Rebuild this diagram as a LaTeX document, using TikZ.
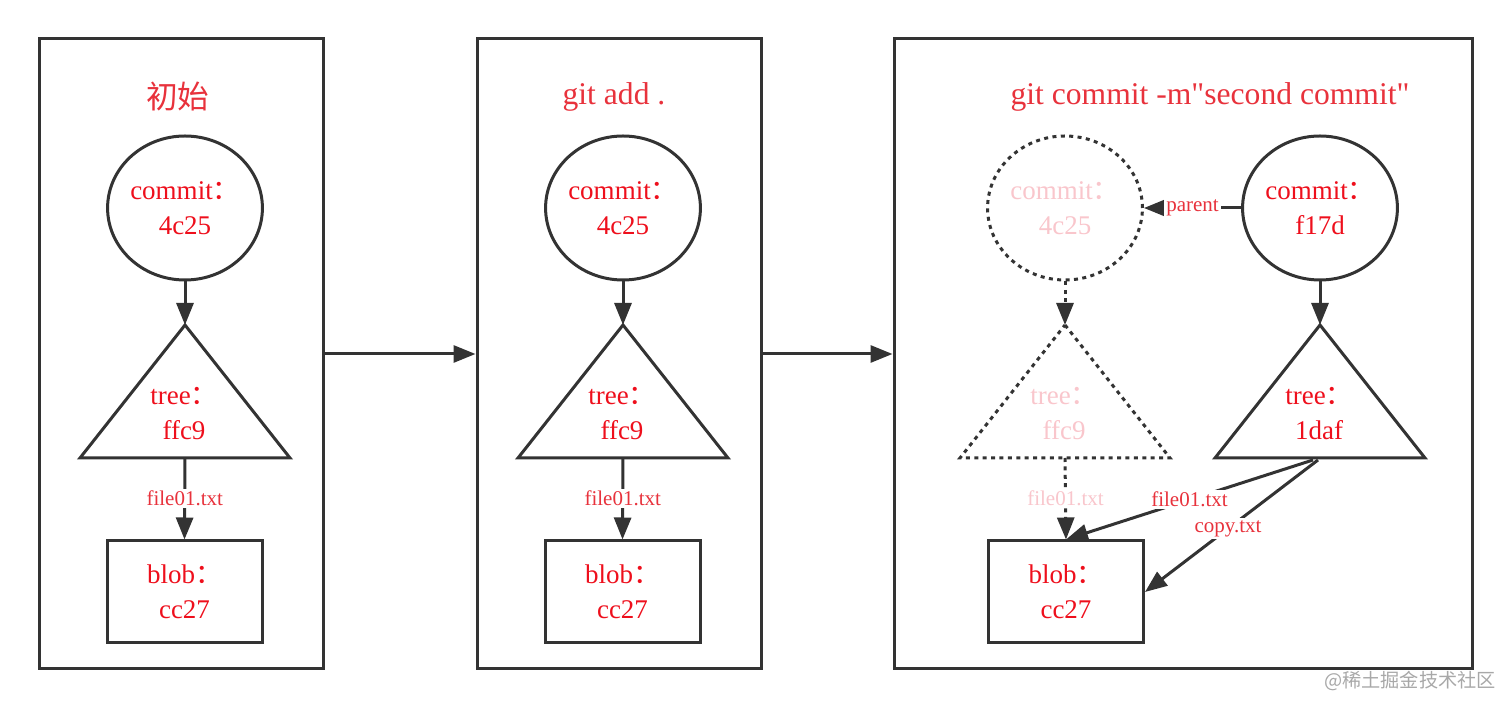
\documentclass[tikz,border=0pt]{standalone}
\usepackage{fontspec}
\setmainfont{Liberation Serif}
\newfontfamily\cjk{Noto Sans CJK SC}
\usepackage{xcolor}
\usetikzlibrary{arrows.meta,positioning,calc,shapes.geometric}

\definecolor{linegray}{HTML}{333333}
\definecolor{nodered}{HTML}{EE0F1C}
\definecolor{titlered}{HTML}{E8323C}
\definecolor{ghostpink}{HTML}{F9C6CC}
\definecolor{wmgray}{HTML}{A8A8A8}

\begin{document}
\begin{tikzpicture}[
    x=0.5pt, y=-0.5pt,
    panel/.style={rectangle, draw=linegray, line width=1.5pt, minimum height=315pt},
    commitnode/.style={ellipse, draw=linegray, line width=1.5pt, minimum width=76pt, minimum height=72pt, inner sep=0pt, align=center, text=nodered, font=\fontsize{13.5}{17.5}\selectfont},
    blobnode/.style={rectangle, draw=linegray, line width=1.5pt, minimum width=77.5pt, minimum height=51pt, inner sep=0pt, align=center, text=nodered, font=\fontsize{13.5}{17.5}\selectfont},
    treetext/.style={align=center, inner sep=0pt, text=nodered, font=\fontsize{13.5}{17.5}\selectfont},
    tri/.style={draw=linegray, line width=1.5pt, line join=miter},
    ghost/.style={dash pattern=on 2pt off 2.2pt, text=ghostpink},
    title/.style={text=titlered, font=\fontsize{15.8}{18}\selectfont},
    edge/.style={draw=linegray, line width=1.5pt, -{Triangle[length=11pt,width=8.5pt]}},
    ghostedge/.style={edge, dash pattern=on 2pt off 2.2pt},
    elabel/.style={fill=white, inner sep=1pt, text=titlered, font=\fontsize{10.5}{12}\selectfont},
    wmark/.style={text=wmgray, font=\cjk\fontsize{9.6}{11}\selectfont}
]
\useasboundingbox (0,0) rectangle (1512,710);

% Panels
\node[panel, minimum width=142pt] (p1) at (181,354) {};
\node[panel, minimum width=142pt] (p2) at (619,354) {};
\node[panel, minimum width=289pt] (p3) at (1183,354) {};
\node[title] (h1) at (178,96) {\cjk 初始};
\node[title] (h2) at (614,97) {git add .};
\node[title] (h3) at (1210,97) {git commit -m\textquotedbl second commit\textquotedbl};

% Panel 1
\node[commitnode] (c1) at (185,208) {commit{\cjk ：}\\4c25};
\draw[tri] (185,325) coordinate (t1top) -- (290,458) -- (80,458) -- cycle;
\coordinate (t1bot) at (185,458);
\node[treetext] (t1) at (184,414) {tree{\cjk ：}\\ffc9};
\node[blobnode] (b1) at (184.5,592) {blob{\cjk ：}\\cc27};

% Panel 2
\node[commitnode] (c2) at (623,208) {commit{\cjk ：}\\4c25};
\draw[tri] (623,325) coordinate (t2top) -- (728,458) -- (518,458) -- cycle;
\coordinate (t2bot) at (623,458);
\node[treetext] (t2) at (622,414) {tree{\cjk ：}\\ffc9};
\node[blobnode] (b2) at (622.5,592) {blob{\cjk ：}\\cc27};

% Panel 3: old objects
\node[commitnode, ghost] (g1) at (1065,208) {commit{\cjk ：}\\4c25};
\draw[tri, ghost] (1065,325) coordinate (g2top) -- (1170,458) -- (960,458) -- cycle;
\coordinate (g2bot) at (1065,458);
\node[treetext, ghost] (g2) at (1064,414) {tree{\cjk ：}\\ffc9};

% Panel 3: new objects
\node[commitnode] (c3) at (1320,208) {commit{\cjk ：}\\f17d};
\draw[tri] (1320,325) coordinate (t3top) -- (1425,458) -- (1215,458) -- cycle;
\coordinate (t3bot) at (1313,460);
\coordinate (t3bot2) at (1318,460);
\node[treetext] (t3) at (1319,414) {tree{\cjk ：}\\1daf};
\node[blobnode] (b3) at (1066,592) {blob{\cjk ：}\\cc27};

% Connections
\path[edge] (p1.east) -- (p2.west);
\path[edge] (p2.east) -- (p3.west);
\path[edge] (c1.south) -- (t1top);
\path[edge] (t1bot) -- node[elabel] {file01.txt} (b1.north);
\path[edge] (c2.south) -- (t2top);
\path[edge] (t2bot) -- node[elabel] {file01.txt} (b2.north);
\path[ghostedge] (g1.south) -- (g2top);
\path[ghostedge] (g2bot) -- node[elabel, text=ghostpink] {file01.txt} (b3.north);
\path[edge] (c3.west) -- node[elabel] {parent} (g1.east);
\path[edge] (c3.south) -- (t3top);
\path[edge] (t3bot) -- node[elabel] {file01.txt} (b3.north);
\path[edge] (t3bot2) -- node[elabel, pos=0.52] {copy.txt} (b3.east);

% Watermark
\node[wmark] (wm) at (1410,681) {@稀土掘金技术社区};

\end{tikzpicture}
\end{document}
